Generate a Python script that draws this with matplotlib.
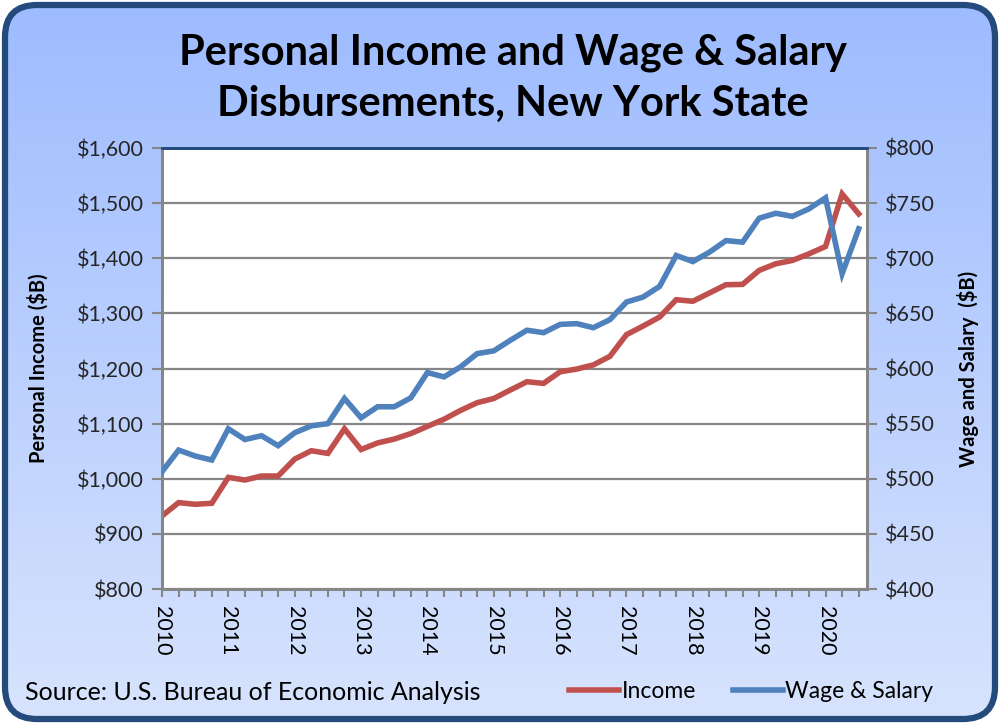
import numpy as np
import matplotlib
matplotlib.use("Agg")
import matplotlib.pyplot as plt
from matplotlib.patches import FancyBboxPatch
from matplotlib.lines import Line2D

# ---------------- data ----------------
years = [str(y) for y in range(2010, 2021)]
income = [932.5, 956.7, 953.7, 955.5, 1002.5, 997.7, 1005, 1005, 1035.7, 1050.8, 1046,
          1090.6, 1053, 1065, 1072, 1082, 1095, 1108, 1124, 1138, 1145.6, 1161,
          1176, 1173, 1194, 1199, 1206.5, 1222, 1261.4, 1277, 1293.4, 1324.8, 1322,
          1337, 1352, 1352.6, 1378, 1390, 1396, 1408, 1421.4, 1516.7, 1480.5]
wages = [506.4, 526, 520.6, 517, 545.3, 535.6, 539, 530, 541.7, 548, 550,
         572.8, 555.3, 565.3, 565.3, 573.4, 596.3, 592.4, 601.5, 613.5, 616, 625.6,
         634.7, 632.5, 640, 640.7, 637, 644.3, 660.3, 664.8, 674.5, 702.5, 697,
         705.5, 716, 714.6, 736.3, 740.8, 738, 744.8, 754.8, 686, 726.7]
left_ticks = [800, 900, 1000, 1100, 1200, 1300, 1400, 1500, 1600]
right_ticks = [400, 450, 500, 550, 600, 650, 700, 750, 800]

FONT = "Lato"
RED = "#c0504d"
BLUE = "#4f81bd"
GRID = "#868686"
NAVY = "#254a7c"
TICKFS = 15.5

fig = plt.figure(figsize=(10, 7.24), dpi=100)
fig.patch.set_facecolor("white")

# background rounded gradient box
bg = fig.add_axes([0, 0, 1, 1])
bg.set_xlim(0, 1000)
bg.set_ylim(0, 724)
bg.axis("off")
grad = np.linspace(0, 1, 256).reshape(-1, 1)
top_c = np.array([157, 187, 255]) / 255
bot_c = np.array([216, 228, 253]) / 255
img = top_c[None, None, :] * (1 - grad[:, :, None]) + bot_c[None, None, :] * grad[:, :, None]
im = bg.imshow(img, extent=[0, 1000, 0, 724], origin="upper", aspect="auto", zorder=0)
box = FancyBboxPatch((5, 5), 990, 714, boxstyle="round,pad=0,rounding_size=32",
                     facecolor="none", edgecolor=NAVY, linewidth=4.5, zorder=2)
bg.add_patch(box)
im.set_clip_path(box)

# main axes
ax = fig.add_axes([0.162, 1 - 589 / 724, 0.705, 441 / 724])
ax.set_facecolor("white")
x = np.arange(len(income))
ax.plot(x, income, color=RED, lw=4, solid_joinstyle="miter", zorder=3)
ax.set_xlim(0, 42.5)
ax.set_ylim(800, 1600)
ax.set_yticks(left_ticks)
ax.set_yticklabels(["${:,}".format(v) for v in left_ticks], fontsize=TICKFS, family=FONT,
                   color="#262626")
ax.yaxis.grid(True, color=GRID, lw=1.6)
ax.set_axisbelow(True)
ax.set_xticks(np.arange(0, 41, 4))
ax.set_xticklabels(years, rotation=-90, fontsize=TICKFS, family=FONT, color="black")
ax.set_xticks(np.arange(0, 43, 1), minor=True)
ax.tick_params(axis="x", which="both", direction="out", length=6, width=1.5, color=GRID, pad=6)
ax.tick_params(axis="y", direction="out", length=7, width=1.5, color=GRID, pad=6)
for s in ["left", "bottom", "right"]:
    ax.spines[s].set_color(GRID)
    ax.spines[s].set_linewidth(2)
ax.spines["top"].set_color(NAVY)
ax.spines["top"].set_linewidth(2)
ax.set_ylabel("Personal Income ($B)", fontsize=14.5, family=FONT, fontweight="bold",
              labelpad=20)

ax2 = ax.twinx()
ax2.plot(x, wages, color=BLUE, lw=4, solid_joinstyle="miter", zorder=3)
ax2.set_ylim(400, 800)
ax2.set_yticks(right_ticks)
ax2.set_yticklabels(["${:,}".format(v) for v in right_ticks], fontsize=TICKFS, family=FONT,
                    color="#262626")
ax2.tick_params(axis="y", direction="out", length=7, width=1.5, color=GRID, pad=6)
for s in ["left", "bottom", "right"]:
    ax2.spines[s].set_color(GRID)
    ax2.spines[s].set_linewidth(2)
ax2.spines["top"].set_color(NAVY)
ax2.spines["top"].set_linewidth(2)
ax2.set_ylabel("Wage and Salary  ($B)", fontsize=14.5, family=FONT, fontweight="bold",
               labelpad=16)

# title
fig.text(0.513, 1 - 53 / 724, "Personal Income and Wage & Salary", ha="center", va="center",
         fontsize=30, family=FONT, fontweight="bold")
fig.text(0.513, 1 - 104 / 724, "Disbursements, New York State", ha="center", va="center",
         fontsize=30, family=FONT, fontweight="bold")

# source
fig.text(25 / 1000, 1 - 692 / 724, "Source: U.S. Bureau of Economic Analysis", ha="left",
         va="center", fontsize=18, family=FONT)

# legend
handles = [Line2D([], [], color=RED, lw=4), Line2D([], [], color=BLUE, lw=4)]
fig.legend(handles, ["Income", "Wage & Salary"], loc="center", bbox_to_anchor=(0.751, 1 - 692 / 724),
           ncol=2, frameon=False, prop={"family": FONT, "size": 16.5}, handlelength=2.2,
           handletextpad=0.1, columnspacing=1.6)

fig.savefig("out.png", dpi=100)
